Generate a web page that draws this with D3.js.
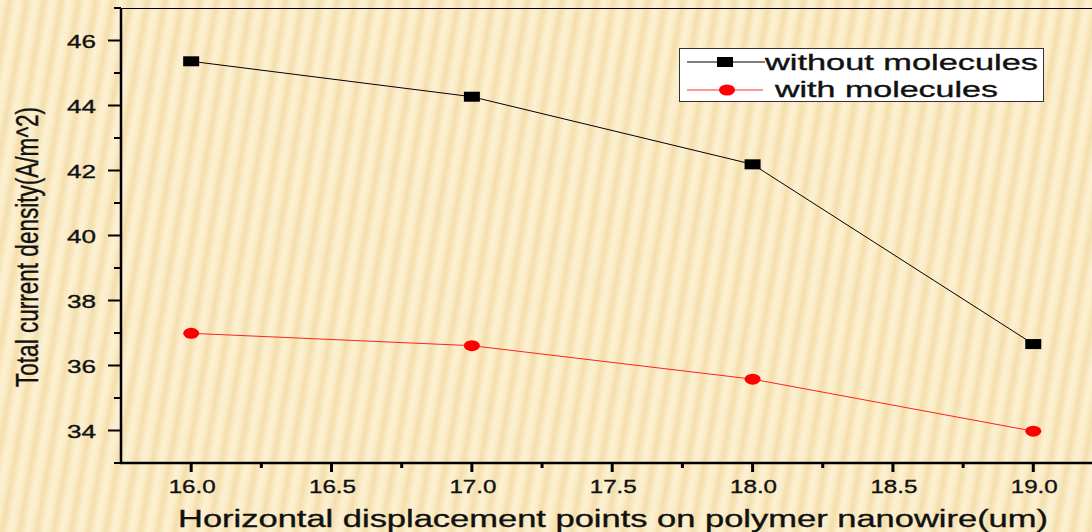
<!DOCTYPE html>
<html><head><meta charset="utf-8">
<script src="https://cdn.jsdelivr.net/npm/d3@7"></script>
<style>html,body{margin:0;padding:0;overflow:hidden;background:#FAECC4}</style>
</head><body><svg id="c" width="1092" height="532"></svg>
<script>
const xValues = [16.0, 17.0, 18.0, 19.0];
const withoutMolecules = [45.36, 44.27, 42.19, 36.66];
const withMolecules = [36.99, 36.61, 35.58, 33.98];
const xTicks = [16.0, 16.5, 17.0, 17.5, 18.0, 18.5, 19.0];
const yTicks = [34, 36, 38, 40, 42, 44, 46];
const seriesNames = ["without molecules", "with molecules"];
const xTitle = "Horizontal displacement points on polymer nanowire(um)";
const yTitle = "Total current density(A/m^2)";

(function(){
const FONT = "'Liberation Sans', Arial, sans-serif";
const svg = d3.select("#c");
const W = 1092, H = 532;
const mLeft = 121, mTop = 8, mBottom = 463;

// background with soft diagonal stripes
const defs = svg.append("defs");
const grad = defs.append("linearGradient").attr("id","sg").attr("x1","0").attr("x2","1").attr("y1","0").attr("y2","0");
[[0,"#FCF1D4"],[0.3,"#FAEBC4"],[0.55,"#F3DEAC"],[0.75,"#F8E7BD"],[1,"#FCF1D4"]].forEach(([o,c])=>grad.append("stop").attr("offset",o).attr("stop-color",c));
const pat = defs.append("pattern").attr("id","stripes").attr("patternUnits","userSpaceOnUse")
  .attr("width",17).attr("height",40).attr("patternTransform","rotate(10)");
pat.append("rect").attr("width",17).attr("height",40).attr("fill","url(#sg)");
svg.append("rect").attr("width",W).attr("height",H).attr("fill","url(#stripes)");

const x = d3.scaleLinear().domain([15.75, 19.25]).range([mLeft, mLeft + 3.5*280.7]);
const y = d3.scaleLinear().domain([33, 47]).range([mBottom, mTop]);

const txt = sel => sel.attr("font-family",FONT).attr("fill","#111").attr("stroke","#111").attr("stroke-width",0.35)
  .attr("lengthAdjust","spacingAndGlyphs");

// top frame
svg.append("line").attr("x1",mLeft).attr("x2",W).attr("y1",mTop+0.5).attr("y2",mTop+0.5).attr("stroke","#000").attr("stroke-width",1);

// Y axis
const yMinor = d3.range(33, 47.01, 1).filter(v => !yTicks.includes(v));
const yAx = svg.append("g").attr("transform",`translate(${mLeft},0)`);
yAx.append("line").attr("x1",0).attr("x2",0).attr("y1",mTop).attr("y2",mBottom).attr("stroke","#000").attr("stroke-width",2.5);
yAx.selectAll(".ymaj").data(yTicks).join("line").attr("x1",-13).attr("x2",0).attr("y1",d=>y(d)).attr("y2",d=>y(d)).attr("stroke","#000").attr("stroke-width",2);
yAx.selectAll(".ymin").data(yMinor).join("line").attr("x1",-7).attr("x2",0).attr("y1",d=>y(d)).attr("y2",d=>y(d)).attr("stroke","#000").attr("stroke-width",2);
yAx.selectAll(".ylab").data(yTicks).join("text").attr("x",-25).attr("y",d=>y(d)+7)
  .attr("text-anchor","end").attr("font-size",19).attr("textLength",29).call(txt).text(d=>d);

// X axis
const xMinor = d3.range(16.25, 19.01, 0.5);
const xAx = svg.append("g").attr("transform",`translate(0,${mBottom})`);
xAx.append("line").attr("x1",mLeft-1).attr("x2",W).attr("y1",0).attr("y2",0).attr("stroke","#000").attr("stroke-width",2.5);
xAx.selectAll(".xmaj").data(xTicks).join("line").attr("x1",d=>x(d)).attr("x2",d=>x(d)).attr("y1",0).attr("y2",9).attr("stroke","#000").attr("stroke-width",3);
xAx.selectAll(".xmin").data(xMinor).join("line").attr("x1",d=>x(d)).attr("x2",d=>x(d)).attr("y1",0).attr("y2",5).attr("stroke","#000").attr("stroke-width",3);
xAx.selectAll(".xlab").data(xTicks).join("text").attr("x",d=>x(d)+1).attr("y",29.5)
  .attr("text-anchor","middle").attr("font-size",19).attr("textLength",47).call(txt).text(d=>d.toFixed(1));

// titles
svg.append("text").attr("x",613).attr("y",527).attr("text-anchor","middle")
  .attr("font-size",23).attr("textLength",870).call(txt).text(xTitle);
svg.append("text").attr("transform","translate(38,247) scale(1.5,1) rotate(-90)").attr("text-anchor","middle")
  .attr("font-size",21).attr("textLength",280).call(txt).attr("stroke-width",0.25).text(yTitle);

// series
const line = d3.line().x(d=>x(d[0])).y(d=>y(d[1]));
const s1 = xValues.map((v,i)=>[v, withoutMolecules[i]]);
const s2 = xValues.map((v,i)=>[v, withMolecules[i]]);
svg.append("path").datum(s1).attr("d",line).attr("fill","none").attr("stroke","#000").attr("stroke-width",1);
svg.append("path").datum(s2).attr("d",line).attr("fill","none").attr("stroke","#ff2020").attr("stroke-width",1);
svg.selectAll(".sq").data(s1).join("rect").attr("x",d=>x(d[0])-8).attr("y",d=>y(d[1])-5).attr("width",16).attr("height",10).attr("fill","#000");
svg.selectAll(".ci").data(s2).join("ellipse").attr("cx",d=>x(d[0])).attr("cy",d=>y(d[1])).attr("rx",8).attr("ry",5.5).attr("fill","#ff0000");

// legend
const lg = svg.append("g");
lg.append("rect").attr("x",679.5).attr("y",48.5).attr("width",364).attr("height",53).attr("fill","#fff").attr("stroke","#333").attr("stroke-width",1);
lg.append("line").attr("x1",687).attr("x2",765).attr("y1",62).attr("y2",62).attr("stroke","#000").attr("stroke-width",1);
lg.append("rect").attr("x",717).attr("y",57).attr("width",16).attr("height",10).attr("fill","#000");
lg.append("text").attr("x",765).attr("y",69.5).attr("font-size",22).attr("textLength",273).call(txt).text(seriesNames[0]);
lg.append("line").attr("x1",687).attr("x2",763).attr("y1",90).attr("y2",90).attr("stroke","#ff7070").attr("stroke-width",1.5);
lg.append("ellipse").attr("cx",727).attr("cy",90).attr("rx",8).attr("ry",5.5).attr("fill","#ff0000");
lg.append("text").attr("x",775).attr("y",97).attr("font-size",22).attr("textLength",223).call(txt).text(seriesNames[1]);
})();
</script></body></html>
